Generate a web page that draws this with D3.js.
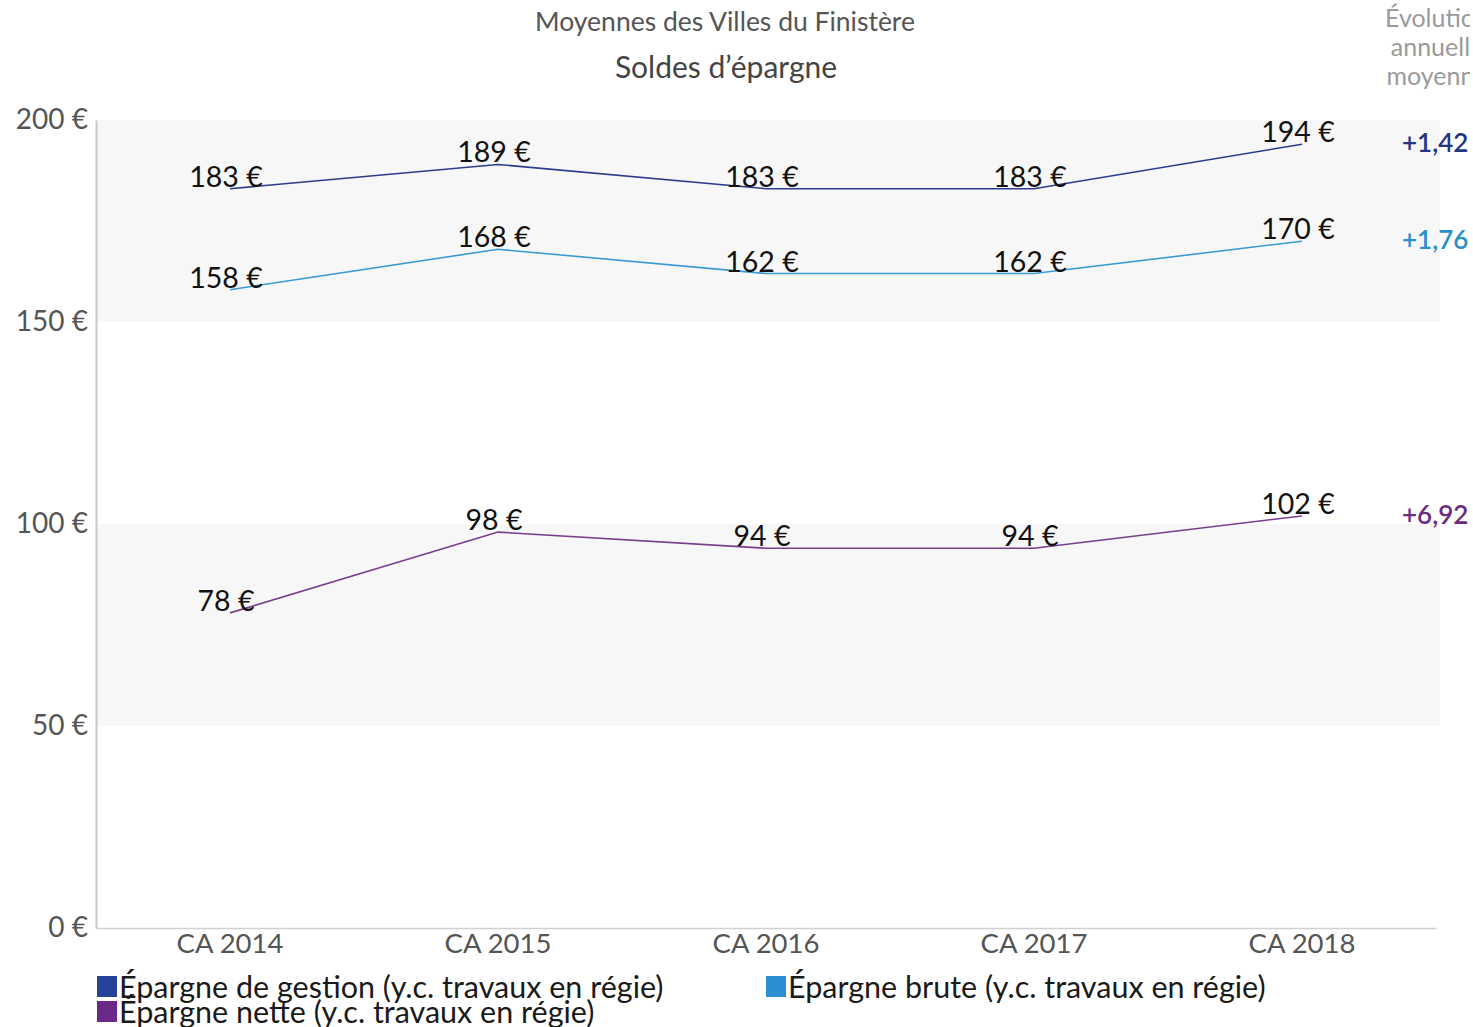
<!DOCTYPE html>
<html>
<head>
<meta charset="utf-8">
<script src="https://cdn.jsdelivr.net/npm/d3@7"></script>
<style>
  html, body { margin: 0; padding: 0; background: #fff; }
  svg { display: block; font-family: Lato, "Open Sans", sans-serif; }
</style>
</head>
<body>
<svg id="chart" width="1473" height="1027"></svg>
<script>
// Categories (comptes administratifs)
const categories = ["CA 2014", "CA 2015", "CA 2016", "CA 2017", "CA 2018"];

// Series values in € per inhabitant
const epargneGestion = [183, 189, 183, 183, 194];
const epargneBrute   = [158, 168, 162, 162, 170];
const epargneNette   = [78, 98, 94, 94, 102];

const seriesNames = [
  "Épargne de gestion (y.c. travaux en régie)",
  "Épargne brute (y.c. travaux en régie)",
  "Épargne nette (y.c. travaux en régie)"
];
const seriesColors = ["#2b3c8c", "#3a9ad6", "#7a3d8c"];
const legendColors = ["#26439a", "#2c8fd2", "#6b2a8a"];
const evoColors = ["#24367f", "#2a8fc8", "#6a2c80"];

// Average annual growth, shown in the right-hand column
const evolutions = ["+1,42 %", "+1,76 %", "+6,92 %"];
const evolutionHeader = ["Évolution", "annuelle", "moyenne"];

const yTicks = [0, 50, 100, 150, 200];

const series = [epargneGestion, epargneBrute, epargneNette].map((values, i) => ({
  name: seriesNames[i], values, color: seriesColors[i], legend: legendColors[i],
  evo: evolutions[i], evoColor: evoColors[i]
}));

const svg = d3.select("#chart");
const margin = { left: 96, right: 1436, top: 120, bottom: 928 };

const x = d3.scaleBand().domain(categories).range([margin.left, margin.right]);
const y = d3.scaleLinear().domain([0, 200]).range([margin.bottom, margin.top]);

// Alternating background bands
const bands = [[150, 200], [50, 100]];
svg.append("g").selectAll("rect").data(bands).join("rect")
  .attr("x", margin.left + 1)
  .attr("width", 1440 - margin.left - 1)
  .attr("y", d => y(d[1]))
  .attr("height", d => y(d[0]) - y(d[1]))
  .attr("fill", "#f7f7f7");

// Titles
svg.append("text").attr("x", 725).attr("y", 31).attr("text-anchor", "middle")
  .attr("font-size", 26.5).attr("fill", "#555").text("Moyennes des Villes du Finistère");
svg.append("text").attr("x", 726).attr("y", 78).attr("text-anchor", "middle")
  .attr("font-size", 30).attr("fill", "#444").text("Soldes d’épargne");

// Y axis
const yAxis = svg.append("g").attr("transform", `translate(${margin.left},0)`)
  .call(d3.axisLeft(y).tickValues(yTicks).tickSize(0).tickPadding(8).tickFormat(d => d + " €"));
yAxis.select(".domain").attr("stroke", "#c8c8c8").attr("stroke-width", 2);
yAxis.selectAll("text").attr("font-size", 28).attr("fill", "#555").attr("font-family", "Lato, sans-serif");

// X axis
const xAxis = svg.append("g").attr("transform", `translate(0,${margin.bottom})`)
  .call(d3.axisBottom(x).tickSize(0).tickPadding(5));
xAxis.select(".domain").attr("stroke", "#d0d0d0").attr("stroke-width", 1.5);
xAxis.selectAll("text").attr("font-size", 27.5).attr("fill", "#555").attr("font-family", "Lato, sans-serif");

// Lines and value labels
const line = d3.line()
  .x((d, i) => x(categories[i]) + x.bandwidth() / 2)
  .y(d => y(d));

const sg = svg.append("g").selectAll("g").data(series).join("g");
sg.append("path")
  .attr("d", d => line(d.values))
  .attr("fill", "none")
  .attr("stroke", d => d.color)
  .attr("stroke-width", 1.6);

sg.selectAll("text.val").data(d => d.values).join("text")
  .attr("class", "val")
  .attr("x", (d, i) => x(categories[i]) + x.bandwidth() / 2 - 4)
  .attr("y", d => y(d) - 2)
  .attr("text-anchor", "middle")
  .attr("font-size", 28.5)
  .attr("fill", "#111")
  .text(d => d + " €");

// Right-hand column: average annual growth (clipped at the edge)
svg.append("clipPath").attr("id", "edge").append("rect")
  .attr("x", 1360).attr("y", 0).attr("width", 110).attr("height", 1027);
const right = svg.append("g").attr("clip-path", "url(#edge)");
right.selectAll("text.hdr").data(evolutionHeader).join("text")
  .attr("class", "hdr")
  .attr("x", 1437).attr("y", (d, i) => 27 + i * 29)
  .attr("text-anchor", "middle")
  .attr("font-size", 25).attr("fill", "#9a9a9a")
  .text(d => d);
right.selectAll("text.evo").data(series).join("text")
  .attr("class", "evo")
  .attr("x", 1402)
  .attr("y", d => y(d.values[d.values.length - 1]) + 8)
  .attr("font-size", 26).attr("font-weight", 600).attr("fill", d => d.evoColor)
  .text(d => d.evo);

// Legend
const legendPos = [[97, 998], [766, 998], [97, 1023]];
const lg = svg.append("g").selectAll("g").data(series).join("g")
  .attr("transform", (d, i) => `translate(${legendPos[i][0]},${legendPos[i][1]})`);
lg.append("rect").attr("x", 0).attr("y", -22).attr("width", 20).attr("height", 21)
  .attr("fill", d => d.legend);
lg.append("text").attr("x", 22).attr("y", 0)
  .attr("font-size", 30.5).attr("fill", "#1a1a1a")
  .text(d => d.name);
</script>
</body>
</html>
